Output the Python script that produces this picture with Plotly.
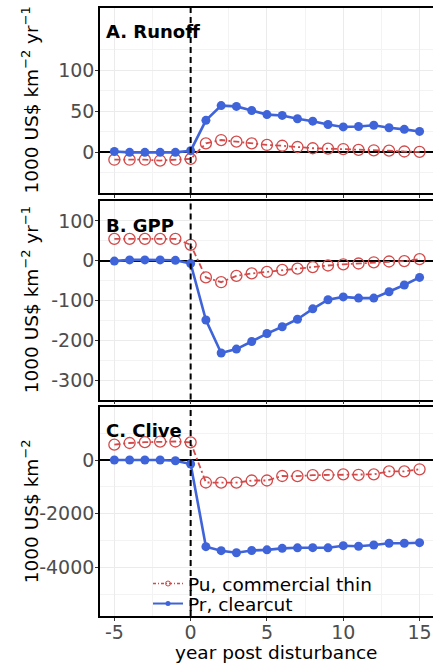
import plotly.graph_objects as go

# years relative to disturbance
years = list(range(-5, 16))

# Pr, clearcut (blue) and Pu, commercial thin (red)
runoff_pr = [1, 0, 0, 0, 0, 2, 39, 57, 56, 51, 46, 45, 41, 38, 34, 31, 31.5, 33, 30, 28, 25.5]
runoff_pu = [-9, -9, -9, -10, -9, -8, 11, 15, 13, 11, 9, 8, 6.5, 5, 4.5, 4, 3, 2.5, 2, 1, 0.5]

gpp_pr = [-1, 2, 2, 2, 1, -7, -149, -232, -222, -203, -183, -166, -147, -121, -98, -91, -94, -94, -78, -61, -42]
gpp_pu = [55, 55, 55, 55, 55, 40, -42, -54, -38, -32, -28, -23, -20, -16, -12, -9, -7, -4, -2, -1, 4]

clive_pr = [0, 0, 0, 0, -30, -150, -3222, -3372, -3450, -3365, -3340, -3285, -3265, -3260, -3265,
            -3186, -3208, -3160, -3097, -3097, -3074]
clive_pu = [570, 632, 662, 682, 688, 656, -836, -842, -843, -762, -762, -595, -601, -563, -558,
            -533, -550, -533, -421, -421, -346]

panel_titles = ["A. Runoff", "B. GPP", "C. Clive"]
y_titles = ["1000 US$ km<sup>−2</sup> yr<sup>−1</sup>",
            "1000 US$ km<sup>−2</sup> yr<sup>−1</sup>",
            "1000 US$ km<sup>−2</sup>"]
y_ticks = [[0, 50, 100], [-300, -200, -100, 0, 100], [-4000, -2000, 0]]
y_minor = [[-25, 25, 75, 125], [-250, -150, -50, 50, 150], [-5000, -3000, -1000, 1000]]
y_ranges = [[-49.6, 176], [-348.7, 150], [-5800, 1989]]
x_ticks = [-5, 0, 5, 10, 15]
x_minor = [-2.5, 2.5, 7.5, 12.5]

RED = "#D34A4A"
BLUE = "#3F63D8"
FONT = "DejaVu Sans"
W, H = 433, 664

# panel pixel boxes (top, bottom)
boxes = [(8, 193), (201, 399.5), (406.5, 616)]
left_px = 100

fig = go.Figure()
series = [(runoff_pu, runoff_pr), (gpp_pu, gpp_pr), (clive_pu, clive_pr)]
for i, (pu, pr) in enumerate(series):
    sfx = "" if i == 0 else str(i + 1)
    fig.add_trace(go.Scatter(
        x=years, y=pu, mode="lines+markers", showlegend=False,
        xaxis="x" + sfx, yaxis="y" + sfx,
        line=dict(color=RED, width=1.8, dash="6px,3px,2px,3px"),
        marker=dict(symbol="circle-open", size=11, color=RED, line=dict(width=1.3)),
    ))
    fig.add_trace(go.Scatter(
        x=years, y=pr, mode="lines+markers", showlegend=False,
        xaxis="x" + sfx, yaxis="y" + sfx,
        line=dict(color=BLUE, width=2.6),
        marker=dict(symbol="circle", size=9, color=BLUE),
    ))

# legend-only entries with small symbols, one legend each so the rows sit close
fig.add_trace(go.Scatter(
    x=[None], y=[None], mode="lines+markers", name="Pu, commercial thin",
    xaxis="x3", yaxis="y3", legend="legend",
    line=dict(color=RED, width=1.5, dash="3px,2px,1px,2px"),
    marker=dict(symbol="circle-open", size=5, color=RED, line=dict(width=1)),
))
fig.add_trace(go.Scatter(
    x=[None], y=[None], mode="lines+markers", name="Pr, clearcut",
    xaxis="x3", yaxis="y3", legend="legend2",
    line=dict(color=BLUE, width=2),
    marker=dict(symbol="circle", size=5, color=BLUE),
))

legend_style = dict(x=148 / W, xanchor="left", yanchor="top",
                    bgcolor="rgba(0,0,0,0)", font=dict(size=18.5, color="black"),
                    itemwidth=30, tracegroupgap=0)

layout = dict(
    width=W, height=H,
    margin=dict(l=0, r=0, t=0, b=0),
    paper_bgcolor="white", plot_bgcolor="white",
    font=dict(family=FONT, size=18, color="black"),
    showlegend=True,
    legend=dict(y=(H - 565) / H, **legend_style),
    legend2=dict(y=(H - 585) / H, **legend_style),
)

annotations = []
shapes = []
for i in range(3):
    sfx = "" if i == 0 else str(i + 1)
    top, bot = boxes[i]
    layout["xaxis" + sfx] = dict(
        domain=[left_px / W, 1], range=[-5.94, 15.88], anchor="y" + sfx,
        tickvals=x_ticks, ticktext=[str(v) for v in x_ticks], showticklabels=(i == 2),
        tickfont=dict(size=19, color="#4D4D4D"), ticklabelstandoff=-5,
        ticks="outside", ticklen=3, tickcolor="#333333", tickwidth=1,
        showgrid=True, gridcolor="#EBEBEB", gridwidth=1,
        minor=dict(tickvals=x_minor, showgrid=True, gridcolor="#F3F3F3", gridwidth=0.7, ticks=""),
        showline=True, mirror=True, linecolor="black", linewidth=1.6,
        zeroline=False, fixedrange=True,
    )
    layout["yaxis" + sfx] = dict(
        domain=[(H - bot) / H, (H - top) / H], range=y_ranges[i], anchor="x" + sfx,
        tickvals=y_ticks[i], ticktext=[str(v) for v in y_ticks[i]],
        tickfont=dict(size=19, color="#4D4D4D"), ticklabelstandoff=-3,
        ticks="outside", ticklen=3, tickcolor="#333333", tickwidth=1,
        showgrid=True, gridcolor="#EBEBEB", gridwidth=1,
        minor=dict(tickvals=y_minor[i], showgrid=True, gridcolor="#F3F3F3", gridwidth=0.7, ticks=""),
        showline=True, linecolor="black", linewidth=1.6,
        zeroline=True, zerolinecolor="black", zerolinewidth=2,
        fixedrange=True,
    )
    # panel title
    annotations.append(dict(
        text="<b>%s</b>" % panel_titles[i], xref="paper", yref="paper",
        x=104 / W, y=(H - [31, 225, 430][i]) / H, xanchor="left", yanchor="middle",
        showarrow=False, font=dict(size=18, color="black"),
    ))
    # y-axis title
    annotations.append(dict(
        text=y_titles[i], xref="paper", yref="y%s domain" % sfx,
        x=30 / W, y=0.5, xanchor="center", yanchor="middle", textangle=-90,
        showarrow=False, font=dict(size=18.5, color="black"),
    ))
    # disturbance marker
    shapes.append(dict(
        type="line", xref="x" + sfx, yref="y%s domain" % sfx,
        x0=0, x1=0, y0=0, y1=1, layer="above",
        line=dict(color="black", width=2, dash="6px,4px"),
    ))

annotations.append(dict(
    text="year post disturbance", xref="paper", yref="paper",
    x=276 / W, y=(H - 652) / H, xanchor="center", yanchor="middle",
    showarrow=False, font=dict(size=18.5, color="black"),
))

layout["annotations"] = annotations
layout["shapes"] = shapes
fig.update_layout(**layout)

# drop the default page margin so the figure sits at the window's corner
fig.write_html("out.html", config={"displayModeBar": False},
               post_script="document.body.style.margin='0';")
